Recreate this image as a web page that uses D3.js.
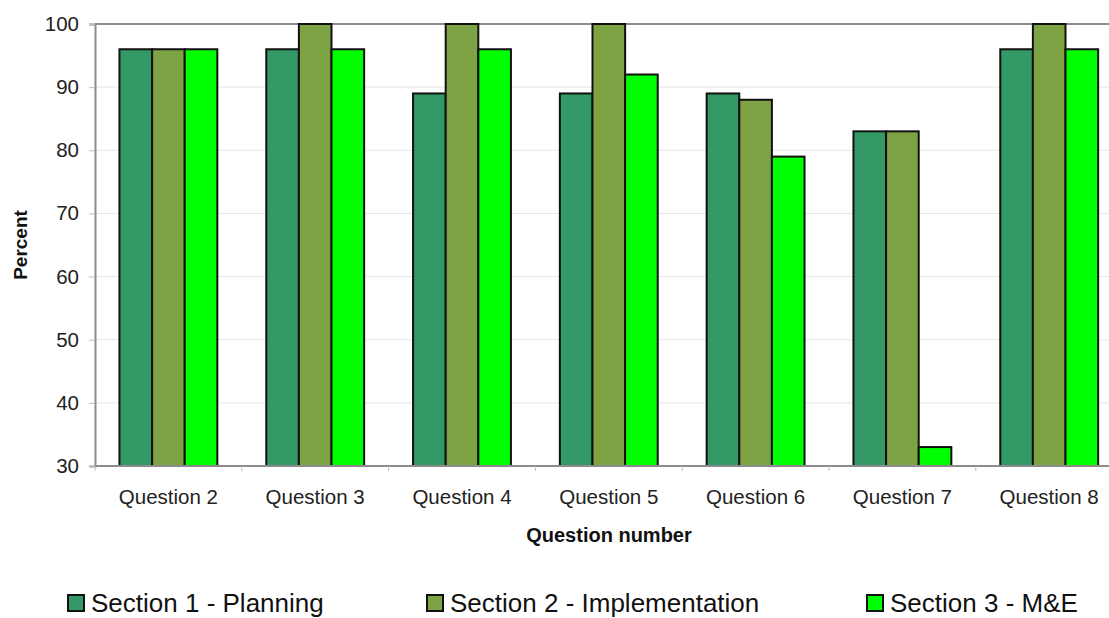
<!DOCTYPE html>
<html>
<head>
<meta charset="utf-8">
<script src="https://cdn.jsdelivr.net/npm/d3@7"></script>
<style>
  body { margin: 0; background: #fff; }
  svg { display: block; font-family: "Liberation Sans", Arial, sans-serif; }
</style>
</head>
<body>
<div id="chart"></div>
<script>
// data
var questions = ["Question 2", "Question 3", "Question 4", "Question 5", "Question 6", "Question 7", "Question 8"];
var sections = ["Section 1 - Planning", "Section 2 - Implementation", "Section 3 - M&E"];
var planning = [96, 96, 89, 89, 89, 83, 96];
var implementation = [96, 100, 100, 100, 88, 83, 100];
var monitoring = [96, 96, 96, 92, 79, 33, 96];
var yTicks = [30, 40, 50, 60, 70, 80, 90, 100];

var colours = ["#339966", "#7ea344", "#00ff00"];
var series = [planning, implementation, monitoring];

var width = 1109, height = 618;
var plotLeft = 95, plotTop = 24, plotBottom = 466;
var bandWidth = 146.8;

var svg = d3.select("#chart").append("svg")
            .attr("width", width)
            .attr("height", height);

var x = d3.scaleBand()
          .domain(questions)
          .range([plotLeft, plotLeft + bandWidth * questions.length])
          .paddingInner(1 / 3)
          .paddingOuter(1 / 6);

var xInner = d3.scaleBand()
               .domain(d3.range(sections.length))
               .range([0, x.bandwidth()]);

var y = d3.scaleLinear()
          .domain([30, 100])
          .range([plotBottom, plotTop]);

var plotRight = plotLeft + bandWidth * questions.length;

// gridlines
svg.append("g")
   .selectAll("line")
   .data(yTicks.slice(1, -1))
   .join("line")
   .attr("x1", plotLeft)
   .attr("x2", plotRight)
   .attr("y1", function(d){ return y(d); })
   .attr("y2", function(d){ return y(d); })
   .attr("stroke", "#e6e6e6")
   .attr("stroke-width", 1);

// top frame line
svg.append("line")
   .attr("x1", plotLeft).attr("x2", plotRight)
   .attr("y1", y(100)).attr("y2", y(100))
   .attr("stroke", "#8c8c8c")
   .attr("stroke-width", 2);

// bars
var groups = svg.append("g")
   .selectAll("g")
   .data(questions)
   .join("g")
   .attr("transform", function(d){ return "translate(" + x(d) + ",0)"; });

groups.selectAll("rect")
   .data(function(d, i){ return series.map(function(s, k){ return {k: k, v: s[i]}; }); })
   .join("rect")
   .attr("x", function(d){ return xInner(d.k); })
   .attr("width", xInner.bandwidth())
   .attr("y", function(d){ return y(d.v); })
   .attr("height", function(d){ return y(30) - y(d.v); })
   .attr("fill", function(d){ return colours[d.k]; })
   .attr("stroke", "#111")
   .attr("stroke-width", 2);

// y axis
var yAxis = svg.append("g")
   .attr("transform", "translate(" + plotLeft + ",0)")
   .call(d3.axisLeft(y).tickValues(yTicks).tickSize(6).tickPadding(10));
yAxis.select(".domain").attr("stroke", "#8c8c8c").attr("stroke-width", 2);
yAxis.selectAll(".tick line").attr("stroke", "#bbb");
yAxis.selectAll("text")
     .attr("font-size", 20.5)
     .attr("fill", "#222")
     .attr("font-family", "Liberation Sans, Arial, sans-serif");

// x axis (ticks at category boundaries)
svg.append("line")
   .attr("x1", plotLeft).attr("x2", plotRight)
   .attr("y1", plotBottom).attr("y2", plotBottom)
   .attr("stroke", "#8c8c8c")
   .attr("stroke-width", 2);

svg.append("g")
   .selectAll("line")
   .data(d3.range(questions.length + 1))
   .join("line")
   .attr("x1", function(i){ return plotLeft + i * bandWidth; })
   .attr("x2", function(i){ return plotLeft + i * bandWidth; })
   .attr("y1", plotBottom)
   .attr("y2", plotBottom + 5)
   .attr("stroke", "#bbb");

svg.append("g")
   .selectAll("text")
   .data(questions)
   .join("text")
   .attr("x", function(d){ return x(d) + x.bandwidth() / 2; })
   .attr("y", 504)
   .attr("text-anchor", "middle")
   .attr("font-size", 20.5)
   .attr("fill", "#222")
   .text(function(d){ return d; });

// axis titles
svg.append("text")
   .attr("x", 609)
   .attr("y", 542)
   .attr("text-anchor", "middle")
   .attr("font-size", 20)
   .attr("font-weight", "bold")
   .attr("fill", "#111")
   .text("Question number");

svg.append("text")
   .attr("transform", "translate(27,245) rotate(-90)")
   .attr("text-anchor", "middle")
   .attr("font-size", 19)
   .attr("font-weight", "bold")
   .attr("fill", "#111")
   .text("Percent");

// legend
var legendX = [68, 427, 867];
var legend = svg.append("g")
   .selectAll("g")
   .data(sections)
   .join("g")
   .attr("transform", function(d, i){ return "translate(" + legendX[i] + ",595)"; });

legend.append("rect")
   .attr("x", 0).attr("y", 0)
   .attr("width", 16).attr("height", 16)
   .attr("fill", function(d, i){ return colours[i]; })
   .attr("stroke", "#111")
   .attr("stroke-width", 2);

legend.append("text")
   .attr("x", 23)
   .attr("y", 17)
   .attr("font-size", 26)
   .attr("fill", "#111")
   .text(function(d){ return d; });
</script>
</body>
</html>
